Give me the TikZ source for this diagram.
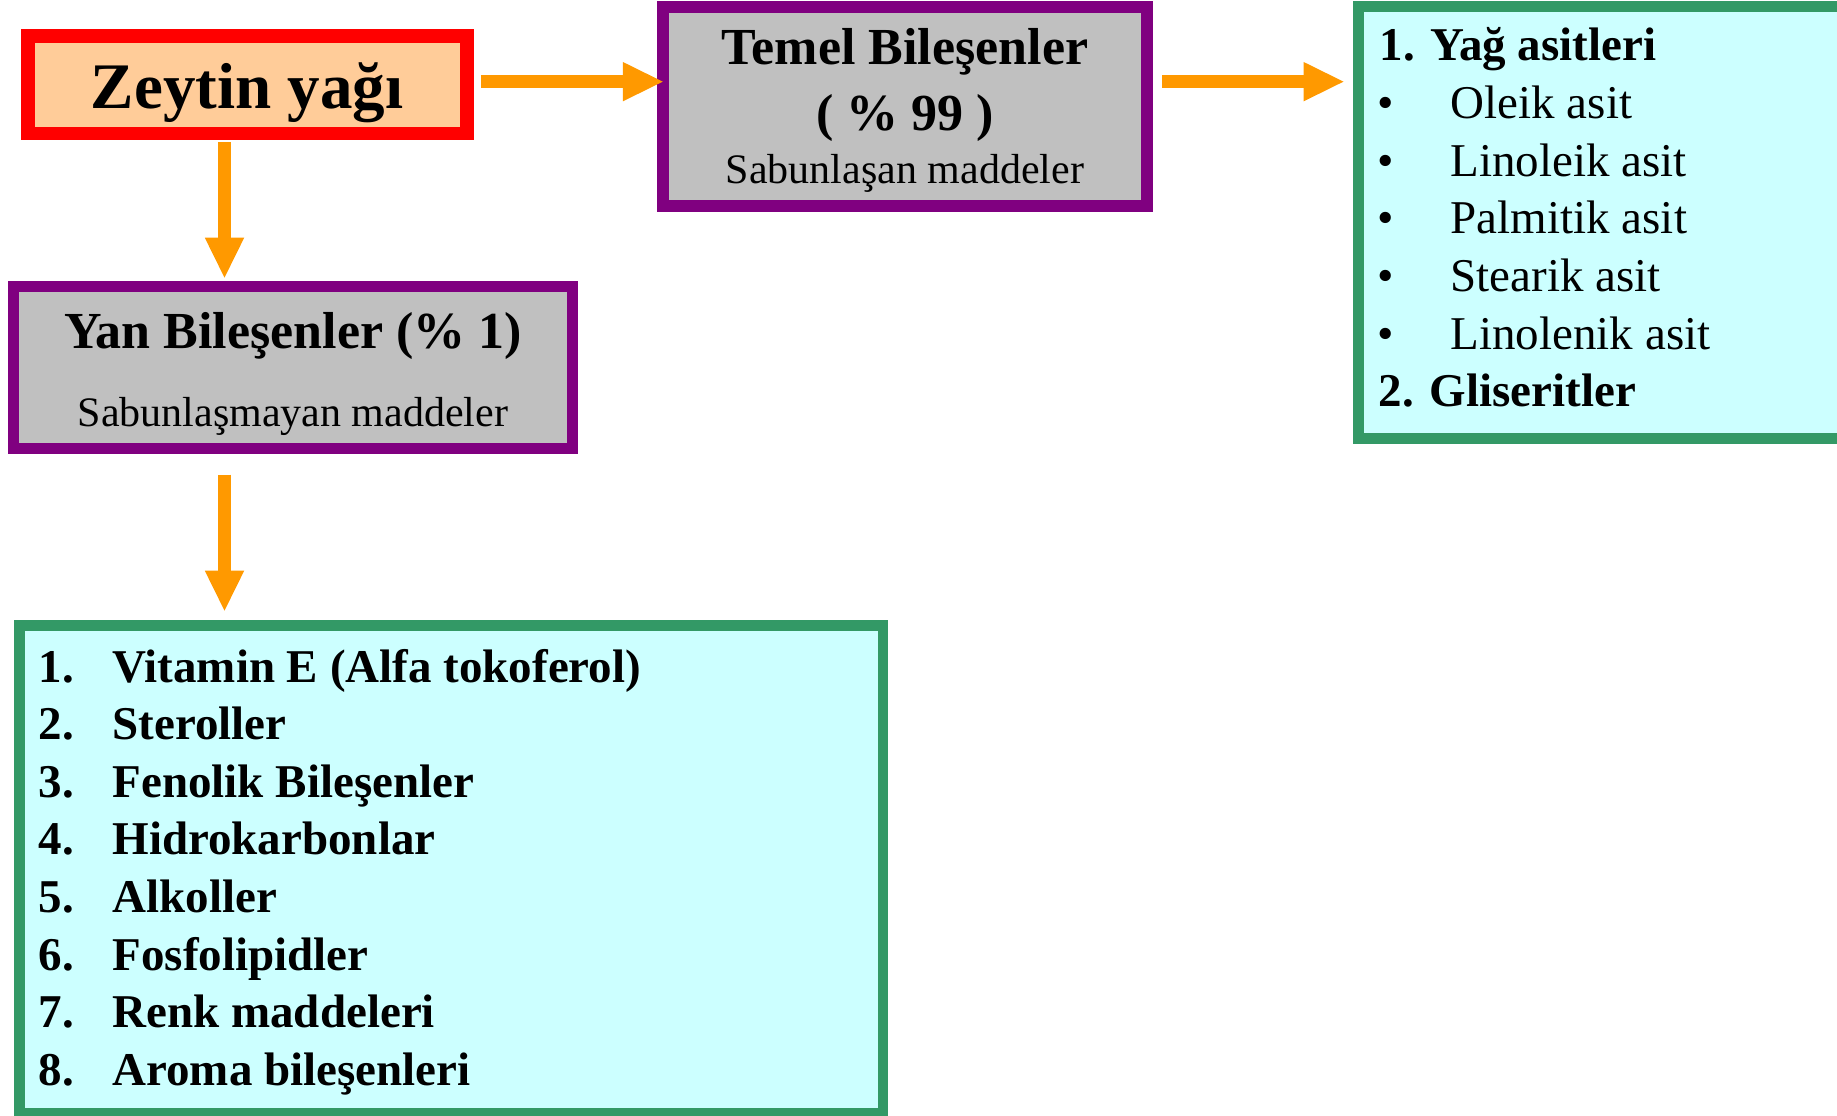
\documentclass[tikz,border=0pt]{standalone}
\usepackage{fontspec}
\setmainfont{Liberation Serif}
\usetikzlibrary{arrows.meta,calc}
\definecolor{arrowc}{HTML}{FF9900}
\definecolor{purp}{HTML}{800080}
\definecolor{grayf}{HTML}{C0C0C0}
\definecolor{peach}{HTML}{FFCC99}
\definecolor{grn}{HTML}{339966}
\definecolor{cyanf}{HTML}{CCFFFF}
\newcommand{\fsz}[1]{\fontsize{#1}{#1}\selectfont}
\begin{document}
\begin{tikzpicture}[x=1pt,y=-1pt,
 box/.style={rectangle, draw, inner sep=0pt, outer sep=0pt, anchor=center},
 graybox/.style={box, draw=purp, fill=grayf},
 listbox/.style={box, draw=grn, fill=cyanf, line width=11pt},
 txt/.style={inner sep=0pt, outer sep=0pt, anchor=base},
 ltxt/.style={inner sep=0pt, outer sep=0pt, anchor=base west},
 arr/.style={draw=arrowc, line width=13pt, -{Triangle[length=40pt,width=39.5pt,line width=0pt,fill=arrowc]}}
]
\useasboundingbox (0,0) rectangle (1837,1116);
\clip (0,0) rectangle (1837,1116);

% boxes
\node[box, draw=red, fill=peach, line width=13.5pt, minimum width=439.2pt, minimum height=97.2pt] (zeytin) at (247.35,84.65) {};
\node[graybox, line width=11.5pt, minimum width=484pt, minimum height=198.7pt] (temel) at (904.75,106.6) {};
\node[graybox, line width=11.3pt, minimum width=559.1pt, minimum height=161.7pt] (yan) at (292.8,367.5) {};
\node[listbox, minimum width=486.5pt, minimum height=432.3pt] (yaglist) at (1601.75,222.65) {};
\node[box, draw=grn, fill=cyanf, line width=10.5pt, minimum width=863.1pt, minimum height=487.5pt] (yanlist) at (451.2,869) {};

% texts
\node[txt] (zeytinT) at (247,108.3) {\fsz{65}\bfseries Zeytin yağı};
\node[txt] (temelT1) at (905,65) {\fsz{52}\bfseries Temel Bileşenler};
\node[txt] (temelT2) at (905,130.5) {\fsz{52}\bfseries ( \% 99 )};
\node[txt] (temelT3) at (905,183) {\fsz{42}Sabunlaşan maddeler};
\node[txt] (yanT1) at (293,348.3) {\fsz{52}\bfseries Yan Bileşenler (\% 1)};
\node[txt] (yanT2) at (293,426.7) {\fsz{42}Sabunlaşmayan maddeler};

% right list
\node[ltxt] (yag1) at (1379.5,61) {\fsz{47}\bfseries 1. Yağ asitleri};
\foreach \t [count=\i] in {Oleik asit, Linoleik asit, Palmitik asit, Stearik asit, Linolenik asit}{
  \node[ltxt] (bul\i) at (1377,{61+57.6*\i}) {\fsz{47}•};
  \node[ltxt] (acid\i) at (1450.7,{61+57.6*\i}) {\fsz{47}\t};
}
\node[ltxt] (yag2) at (1378.8,406.6) {\fsz{47}\bfseries 2. Gliseritler};

% bottom list
\foreach \t [count=\i] in {Vitamin E (Alfa tokoferol), Steroller, Fenolik Bileşenler, Hidrokarbonlar, Alkoller, Fosfolipidler, Renk maddeleri, Aroma bileşenleri}{
  \node[ltxt] (num\i) at (38.7,{682+57.6*(\i-1)}) {\fsz{47}\bfseries \i.};
  \node[ltxt] (item\i) at (112.5,{682+57.6*(\i-1)}) {\fsz{47}\bfseries \t};
}

% arrows
\coordinate (a1) at ($(zeytin.east)+(14,-3)$);
\draw[arr] (a1) -- (a1 -| temel.west);
\coordinate (a2) at ($(temel.east |- a1)+(15.25,0)$);
\draw[arr, shorten >=15pt] (a2) -- (a2 -| yaglist.west);
\coordinate (a3) at ($(zeytin.south)+(-22.85,8.75)$);
\draw[arr, shorten >=9pt] (a3) -- (a3 |- yan.north);
\coordinate (a4) at ($(yan.south)+(-68.3,26.25)$);
\draw[arr, shorten >=14.6pt] (a4) -- (a4 |- yanlist.north);
\end{tikzpicture}
\end{document}
